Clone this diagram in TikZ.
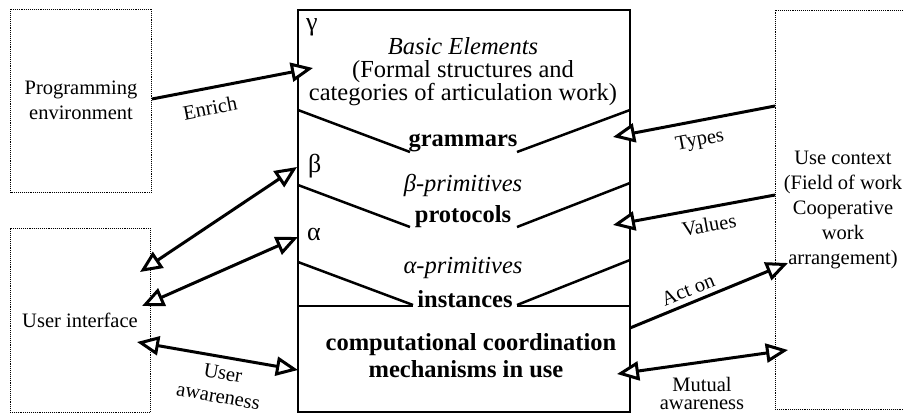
\documentclass[tikz,border=0pt]{standalone}
\usepackage{fontspec}
\setmainfont{Liberation Serif}
\usetikzlibrary{arrows.meta}
\begin{document}
\begin{tikzpicture}[x=1pt,y=-1pt,
  dotbox/.style={draw, densely dotted, line width=0.9pt, inner sep=0pt, align=center, font=\fontsize{20.5}{25}\selectfont},
  conn/.style={line width=3pt},
  one/.style={conn, -{Triangle[fill=white,length=22pt,width=19pt]}},
  two/.style={conn, {Triangle[fill=white,length=22pt,width=19pt]}-{Triangle[fill=white,length=22pt,width=19pt]}},
  sep/.style={line width=2.5pt},
  big/.style={font=\fontsize{24.5}{24}\selectfont, anchor=base, inner sep=0pt},
  greek/.style={font=\fontsize{26}{26}\selectfont, anchor=base west, inner sep=0pt},
  lab/.style={font=\fontsize{20.5}{20}\selectfont, inner sep=0pt}
]
\useasboundingbox (0,0) rectangle (904,414);
% outer boxes
\node[dotbox, minimum width=141pt, minimum height=183pt] (pe) at (81,100.5) {Programming\\environment};
\node[dotbox, minimum width=140pt, minimum height=184pt] (ui) at (80,320) {User interface};
\node[dotbox, minimum width=136pt, minimum height=399pt] (uc) at (843,209.5) {Use context\\(Field of work\\Cooperative\\work\\arrangement)};
% central box
\node[draw, line width=2pt, minimum width=332pt, minimum height=402pt, inner sep=0pt] (cb) at (464,211) {};
% inner separators
\draw[sep] (298,110) -- (410,152);
\draw[sep] (517,152) -- (630,110);
\draw[sep] (298,185) -- (410,227);
\draw[sep] (517,227) -- (630,183);
\draw[sep] (298,262) -- (413,305);
\draw[sep] (517,305) -- (630,260);
\draw[sep] (298,306) -- (413,306);
\draw[sep] (517,306) -- (630,306);
% central texts
\node[greek] (g) at (306,31) {γ};
\node[greek] (b) at (308,172) {β};
\node[greek] (a) at (307,240) {α};
\node[big] (t1) at (463,55) {\itshape Basic Elements};
\node[big] (t2) at (463,78) {(Formal structures and};
\node[big] (t3) at (463,100.5) {categories of articulation work)};
\node[big] (t4) at (463,147) {\bfseries grammars};
\node[big] (t5) at (463,192) {\itshape β-primitives};
\node[big] (t6) at (463,222) {\bfseries protocols};
\node[big] (t7) at (463,273) {\itshape α-primitives};
\node[big] (t8) at (465,307) {\bfseries instances};
\node[big] (t9) at (471,350) {\bfseries computational coordination};
\node[big] (t10) at (466,377) {\bfseries mechanisms in use};
% connector end points
\coordinate (e1) at (152,99);  \coordinate (e2) at (313,68);
\coordinate (b1) at (140,272); \coordinate (b2) at (297,167);
\coordinate (a1) at (142,306); \coordinate (a2) at (298,237);
\coordinate (u1) at (137,342); \coordinate (u2) at (298,370);
\coordinate (y1) at (775,106); \coordinate (y2) at (613,137);
\coordinate (v1) at (775,195); \coordinate (v2) at (613,225);
\coordinate (c1) at (630,328); \coordinate (c2) at (788,263);
\coordinate (m1) at (617,374); \coordinate (m2) at (788,350);
% connectors
\draw[one] (e1) -- (e2);
\draw[two] (b1) -- (b2);
\draw[two] (a1) -- (a2);
\draw[two] (u1) -- (u2);
\draw[one] (y1) -- (y2);
\draw[one] (v1) -- (v2);
\draw[one] (c1) -- (c2);
\draw[two] (m1) -- (m2);
% labels
\node[lab, rotate=11] (l1) at (210,108) {Enrich};
\node[lab, rotate=-10] (l2) at (223,373) {User};
\node[lab, rotate=-10] (l3) at (218,398) {awareness};
\node[lab, rotate=11] (l4) at (700,141) {Types};
\node[lab, rotate=10] (l5) at (709,225) {Values};
\node[lab, rotate=22] (l6) at (688,290) {Act on};
\node[lab] (l7) at (702,384) {Mutual};
\node[lab] (l8) at (702,405) {awareness};
\end{tikzpicture}
\end{document}
